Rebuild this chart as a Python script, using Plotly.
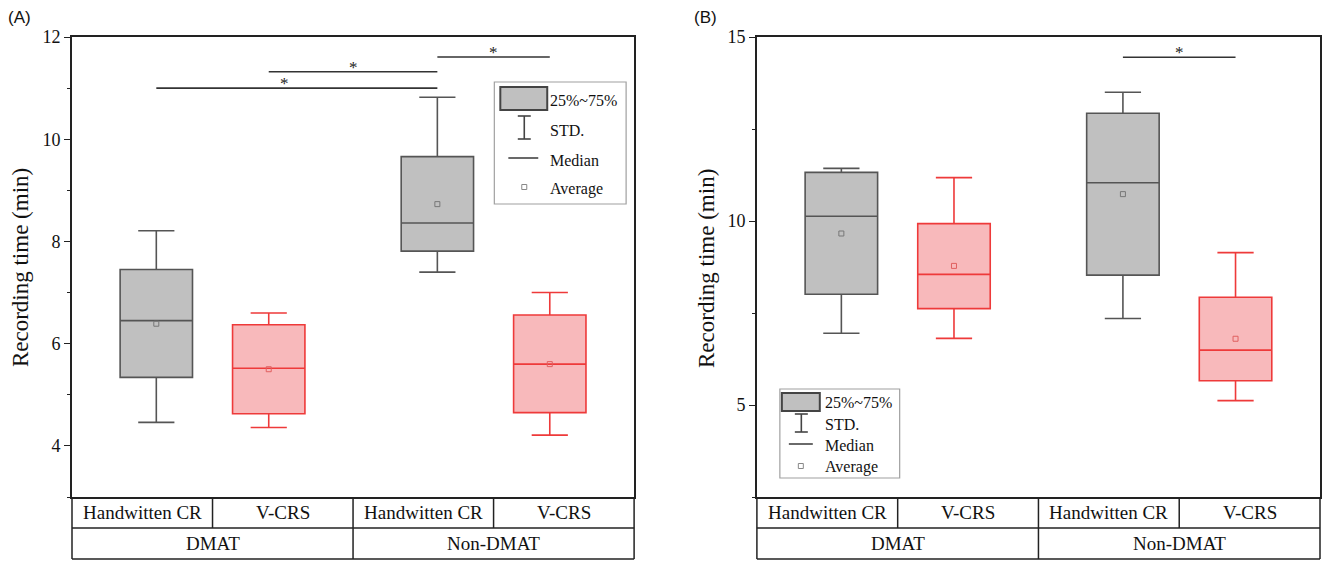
import plotly.graph_objects as go

# ---------------- data ----------------
sub_labels = ["Handwitten CR", "V-CRS", "Handwitten CR", "V-CRS"]
group_labels = ["DMAT", "Non-DMAT"]
cat_pos = [1, 2, 3, 4]

# Panel A (Recording time, min)
a_lower = [4.46, 4.36, 7.40, 4.21]
a_q1 = [5.34, 4.63, 7.81, 4.65]
a_median = [6.45, 5.52, 8.36, 5.60]
a_q3 = [7.45, 6.37, 9.66, 6.56]
a_upper = [8.21, 6.60, 10.82, 7.00]
a_mean = [6.39, 5.50, 8.73, 5.60]
# significance bars: (from index, to index, level, star x)
a_sig_from = [0, 1, 2]
a_sig_to = [2, 2, 3]
a_sig_level = [11.0, 11.32, 11.61]
a_sig_star_x = [2.01, 2.5, 3.5]

# Panel B
b_lower = [6.95, 6.81, 7.35, 5.12]
b_q1 = [8.01, 7.62, 8.53, 5.66]
b_median = [10.13, 8.55, 11.04, 6.49]
b_q3 = [11.32, 9.93, 12.93, 7.93]
b_upper = [11.43, 11.18, 13.50, 9.14]
b_mean = [9.66, 8.78, 10.73, 6.80]
b_sig_from = [2]
b_sig_to = [3]
b_sig_level = [14.45]
b_sig_star_x = [3.5]

legend_labels = ["25%~75%", "STD.", "Median", "Average"]

# ---------------- styling / layout ----------------
W, H = 1332, 561
ML, MR, MT, MB = 72, 10, 37, 64
PW = W - ML - MR
PH = H - MT - MB
PLOT_BOTTOM = H - MB

panel_px = {"A": (72, 635), "B": (758, 1322)}
SERIF = "Liberation Serif, Times New Roman, serif"
SANS = "Liberation Sans, Arial, sans-serif"

gray_fill, gray_line, gray_mean = "#c0c0c0", "#555555", "#777777"
red_fill, red_line, red_mean = "#f8b9bb", "#ee3a3a", "#e06060"

pair_shift = 0.1
box_pos = [c + (pair_shift if i % 2 == 0 else -pair_shift) for i, c in enumerate(cat_pos)]
colors_idx = {"gray": [0, 2], "red": [1, 3]}

fig = go.Figure()


def add_panel(xa, ya, lower, q1, med, q3, upper, mean):
    for key, fill, line, mcol in [("gray", gray_fill, gray_line, gray_mean),
                                  ("red", red_fill, red_line, red_mean)]:
        idx = colors_idx[key]
        fig.add_trace(go.Box(
            x=[box_pos[i] for i in idx],
            q1=[q1[i] for i in idx], median=[med[i] for i in idx], q3=[q3[i] for i in idx],
            lowerfence=[lower[i] for i in idx], upperfence=[upper[i] for i in idx],
            width=0.515, whiskerwidth=0.5, boxpoints=False,
            fillcolor=fill, line=dict(color=line, width=1.6),
            xaxis=xa, yaxis=ya, showlegend=False, hoverinfo="skip"))
        fig.add_trace(go.Scatter(
            x=[box_pos[i] for i in idx], y=[mean[i] for i in idx], mode="markers",
            marker=dict(symbol="square-open", size=5, color=mcol, line=dict(width=1)),
            xaxis=xa, yaxis=ya, showlegend=False, hoverinfo="skip"))


add_panel("x", "y", a_lower, a_q1, a_median, a_q3, a_upper, a_mean)
add_panel("x2", "y2", b_lower, b_q1, b_median, b_q3, b_upper, b_mean)

shapes, annotations = [], []


def sig(xref, yref, froms, tos, levels, stars):
    for f, t, lv, sx in zip(froms, tos, levels, stars):
        shapes.append(dict(type="line", xref=xref, yref=yref, x0=box_pos[f], x1=box_pos[t],
                           y0=lv, y1=lv, line=dict(color="#333333", width=1.6)))
        annotations.append(dict(xref=xref, yref=yref, x=sx, y=lv, text="*", showarrow=False,
                                yanchor="bottom", yshift=-7, font=dict(family=SERIF, size=17, color="#222")))


sig("x", "y", a_sig_from, a_sig_to, a_sig_level, a_sig_star_x)
sig("x2", "y2", b_sig_from, b_sig_to, b_sig_level, b_sig_star_x)


def py2paper(py):
    return (PLOT_BOTTOM - py) / PH


def px2paper(px):
    return (px - ML) / PW


# table below each panel
row_mid = py2paper(528)
row_bot = py2paper(559)
for xname in ["x", "x2"]:
    xd = xname + " domain"
    ln = dict(color="#222222", width=1.5)

    def dfrac(p):
        return (p - 0.5) / 4.0

    for xx in [0, 1]:
        shapes.append(dict(type="line", xref=xd, yref="paper", x0=xx, x1=xx, y0=0, y1=row_bot, line=ln))
    for yy in [row_mid, row_bot]:
        shapes.append(dict(type="line", xref=xd, yref="paper", x0=0, x1=1, y0=yy, y1=yy, line=ln))
    for b in [1.5, 3.5]:
        shapes.append(dict(type="line", xref=xd, yref="paper", x0=dfrac(b), x1=dfrac(b), y0=0, y1=row_mid, line=ln))
    shapes.append(dict(type="line", xref=xd, yref="paper", x0=dfrac(2.5), x1=dfrac(2.5), y0=0, y1=row_bot, line=ln))
    for c, lab in zip(cat_pos, sub_labels):
        annotations.append(dict(xref=xname, yref="paper", x=c, y=(0 + row_mid) / 2, text=lab,
                                showarrow=False, yanchor="middle",
                                font=dict(family=SERIF, size=19, color="#111")))
    for g, lab in enumerate(group_labels):
        annotations.append(dict(xref=xname, yref="paper", x=cat_pos[2 * g] + 0.5, y=(row_mid + row_bot) / 2,
                                text=lab, showarrow=False, yanchor="middle",
                                font=dict(family=SERIF, size=19, color="#111")))


# custom legends (pixel layout converted to domain fractions)
def add_legend(panel, xref, yref, box, rect, std_x, std_y, cap, med_x, med_y, avg, text_x, text_y, fsize):
    x0p, x1p = panel_px[panel]

    def dx(px):
        return (px - x0p) / (x1p - x0p)

    def dy(py):
        return (PLOT_BOTTOM - py) / PH

    shapes.append(dict(type="rect", xref=xref, yref=yref, x0=dx(box[0]), x1=dx(box[1]), y0=dy(box[2]), y1=dy(box[3]),
                       line=dict(color="#a0a0a0", width=1.2), fillcolor="rgba(255,255,255,0)"))
    shapes.append(dict(type="rect", xref=xref, yref=yref, x0=dx(rect[0]), x1=dx(rect[1]), y0=dy(rect[2]), y1=dy(rect[3]),
                       line=dict(color="#444444", width=2), fillcolor=gray_fill))
    sl = dict(color="#444444", width=1.6)
    shapes.append(dict(type="line", xref=xref, yref=yref, x0=dx(std_x), x1=dx(std_x), y0=dy(std_y[0]), y1=dy(std_y[1]), line=sl))
    for yy in std_y:
        shapes.append(dict(type="line", xref=xref, yref=yref, x0=dx(std_x - cap), x1=dx(std_x + cap), y0=dy(yy), y1=dy(yy), line=sl))
    shapes.append(dict(type="line", xref=xref, yref=yref, x0=dx(med_x[0]), x1=dx(med_x[1]), y0=dy(med_y), y1=dy(med_y), line=sl))
    shapes.append(dict(type="rect", xref=xref, yref=yref, x0=dx(avg[0] - 2.5), x1=dx(avg[0] + 2.5),
                       y0=dy(avg[1] - 2.5), y1=dy(avg[1] + 2.5), line=dict(color="#888888", width=1)))
    for lab, ty in zip(legend_labels, text_y):
        annotations.append(dict(xref=xref, yref=yref, x=dx(text_x), y=dy(ty), text=lab, showarrow=False,
                                xanchor="left", yanchor="middle", font=dict(family=SERIF, size=fsize, color="#111")))


add_legend("A", "x domain", "y domain", box=(495, 627, 82, 204), rect=(501, 548, 87, 110),
           std_x=525, std_y=(116, 139), cap=6.5, med_x=(509, 539), med_y=158, avg=(525, 187),
           text_x=549, text_y=[100, 130, 160, 189], fsize=16)
add_legend("B", "x2 domain", "y2 domain", box=(781, 901, 389, 478), rect=(783, 821, 393, 411),
           std_x=802.5, std_y=(414, 432), cap=6.5, med_x=(790, 814), med_y=444, avg=(802, 466),
           text_x=824, text_y=[402, 424, 445, 467], fsize=16)

# axis titles and panel letters
for cx in [20, 707]:
    annotations.append(dict(xref="paper", yref="paper", x=px2paper(cx), y=py2paper(268), text="Recording time (min)",
                            textangle=-90, showarrow=False, xanchor="center", yanchor="middle",
                            font=dict(family=SERIF, size=23, color="#111")))
for lx, lab in [(6, "(A)"), (693, "(B)")]:
    annotations.append(dict(xref="paper", yref="paper", x=px2paper(lx), y=py2paper(18), text=lab,
                            showarrow=False, xanchor="left", yanchor="middle",
                            font=dict(family=SANS, size=17, color="#111")))

xcommon = dict(range=[0.5, 4.5], showticklabels=False, ticks="", showgrid=False, zeroline=False,
               showline=True, mirror=True, linecolor="#222222", linewidth=1.6)
ycommon = dict(showgrid=False, zeroline=False, showline=True, mirror=True, linecolor="#222222", linewidth=1.6,
               ticks="outside", ticklen=6, tickwidth=1.4, tickcolor="#222222",
               tickfont=dict(family=SERIF, size=18, color="#111"))

fig.update_layout(
    width=W, height=H, margin=dict(l=ML, r=MR, t=MT, b=MB),
    paper_bgcolor="white", plot_bgcolor="white", boxmode="overlay",
    xaxis=dict(domain=[0, px2paper(635)], anchor="y", **xcommon),
    yaxis=dict(domain=[0, 1], anchor="x", range=[3, 12], dtick=2, tick0=0,
               minor=dict(dtick=1, ticks="outside", ticklen=3, tickcolor="#222222"), **ycommon),
    xaxis2=dict(domain=[px2paper(758), 1], anchor="y2", **xcommon),
    yaxis2=dict(domain=[0, 1], anchor="x2", range=[2.5, 15], dtick=5, tick0=0,
                minor=dict(dtick=2.5, ticks="outside", ticklen=3, tickcolor="#222222"), **ycommon),
    shapes=shapes, annotations=annotations,
)

fig.write_html("out.html")
